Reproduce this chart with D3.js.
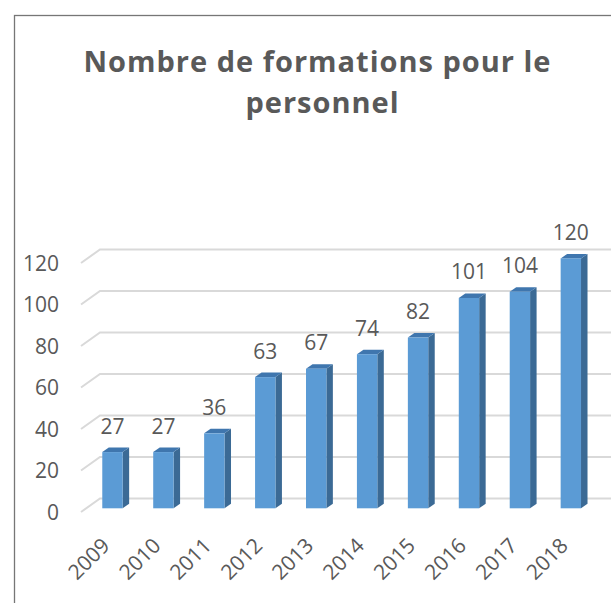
<!DOCTYPE html>
<html><head><meta charset="utf-8">
<script src="https://cdn.jsdelivr.net/npm/d3@7"></script>
<style>
html,body{margin:0;padding:0;background:#fff;overflow:hidden;}
text{font-family:"Open Sans",sans-serif;fill:#595959;}
</style></head>
<body>
<script>
const years = ["2009","2010","2011","2012","2013","2014","2015","2016","2017","2018"];
const values = [27,27,36,63,67,74,82,101,104,120];
const yTicks = [0,20,40,60,80,100,120];
const titleLines = ["Nombre de formations pour le","personnel"];

const W = 611, H = 603;
const svg = d3.select("body").append("svg").attr("width",W).attr("height",H);

// chart border
svg.append("rect").attr("x",14.5).attr("y",15.5).attr("width",W+20).attr("height",H+20)
  .attr("fill","#fff").attr("stroke","#767676").attr("stroke-width",1.3);

// title
svg.append("text").attr("x",317.5).attr("y",71.5).attr("text-anchor","middle")
  .style("font-size","29px").style("font-weight","700").style("letter-spacing","1px")
  .text(titleLines[0]);
svg.append("text").attr("x",322.5).attr("y",113).attr("text-anchor","middle")
  .style("font-size","29px").style("font-weight","700").style("letter-spacing","1px")
  .text(titleLines[1]);

// scales
const x = d3.scaleBand().domain(years).range([100, 609.3]).paddingInner(0).paddingOuter(0);
const yBack = d3.scaleLinear().domain([0,120]).range([498.5, 249.5]);
const yBar = d3.scaleLinear().domain([0,120]).range([508.3, 258.4]);
const wallDX = -19, wallDY = 13.5;      // back wall -> front edge
const barShift = -13;                    // bar front face x offset
const depthDX = 6.5, depthDY = -4.5;     // bar depth
const barW = x.bandwidth() / 2.5;

// gridlines
const grid = svg.append("g");
yTicks.forEach(v => {
  const yb = yBack(v);
  grid.append("path")
    .attr("d", `M${100+wallDX},${yb+wallDY}L100,${yb}L${W+2},${yb}`)
    .attr("fill","none").attr("stroke","#d9d9d9").attr("stroke-width",2);
});

// y tick labels
svg.append("g").selectAll("text").data(yTicks).join("text")
  .attr("x",59).attr("y",v => yBack(v)+wallDY+7.5)
  .attr("text-anchor","end").style("font-size","21px")
  .text(v => v);

// bars
const bars = svg.append("g");
years.forEach((yr,i) => {
  const v = values[i];
  const cx = x(yr) + x.bandwidth()/2 + barShift;
  const xl = cx - barW/2, xr = cx + barW/2;
  const yt = yBar(v), yb = yBar(0);
  bars.append("path")
    .attr("d",`M${xr},${yt}L${xr+depthDX},${yt+depthDY}L${xr+depthDX},${yb+depthDY}L${xr},${yb}Z`)
    .attr("fill","#3b6a95");
  bars.append("path")
    .attr("d",`M${xl},${yt}L${xl+depthDX},${yt+depthDY}L${xr+depthDX},${yt+depthDY}L${xr},${yt}Z`)
    .attr("fill","#3f76ae");
  bars.append("rect").attr("x",xl).attr("y",yt).attr("width",barW).attr("height",yb-yt)
    .attr("fill","#5b9bd5");
  svg.append("text").attr("x",cx).attr("y",yt-18.5).attr("text-anchor","middle")
    .style("font-size","21px").text(v);
  svg.append("text")
    .attr("transform",`translate(${cx-1.5},547) rotate(-45)`)
    .attr("text-anchor","end").style("font-size","21px").text(yr);
});
</script>
</body></html>
